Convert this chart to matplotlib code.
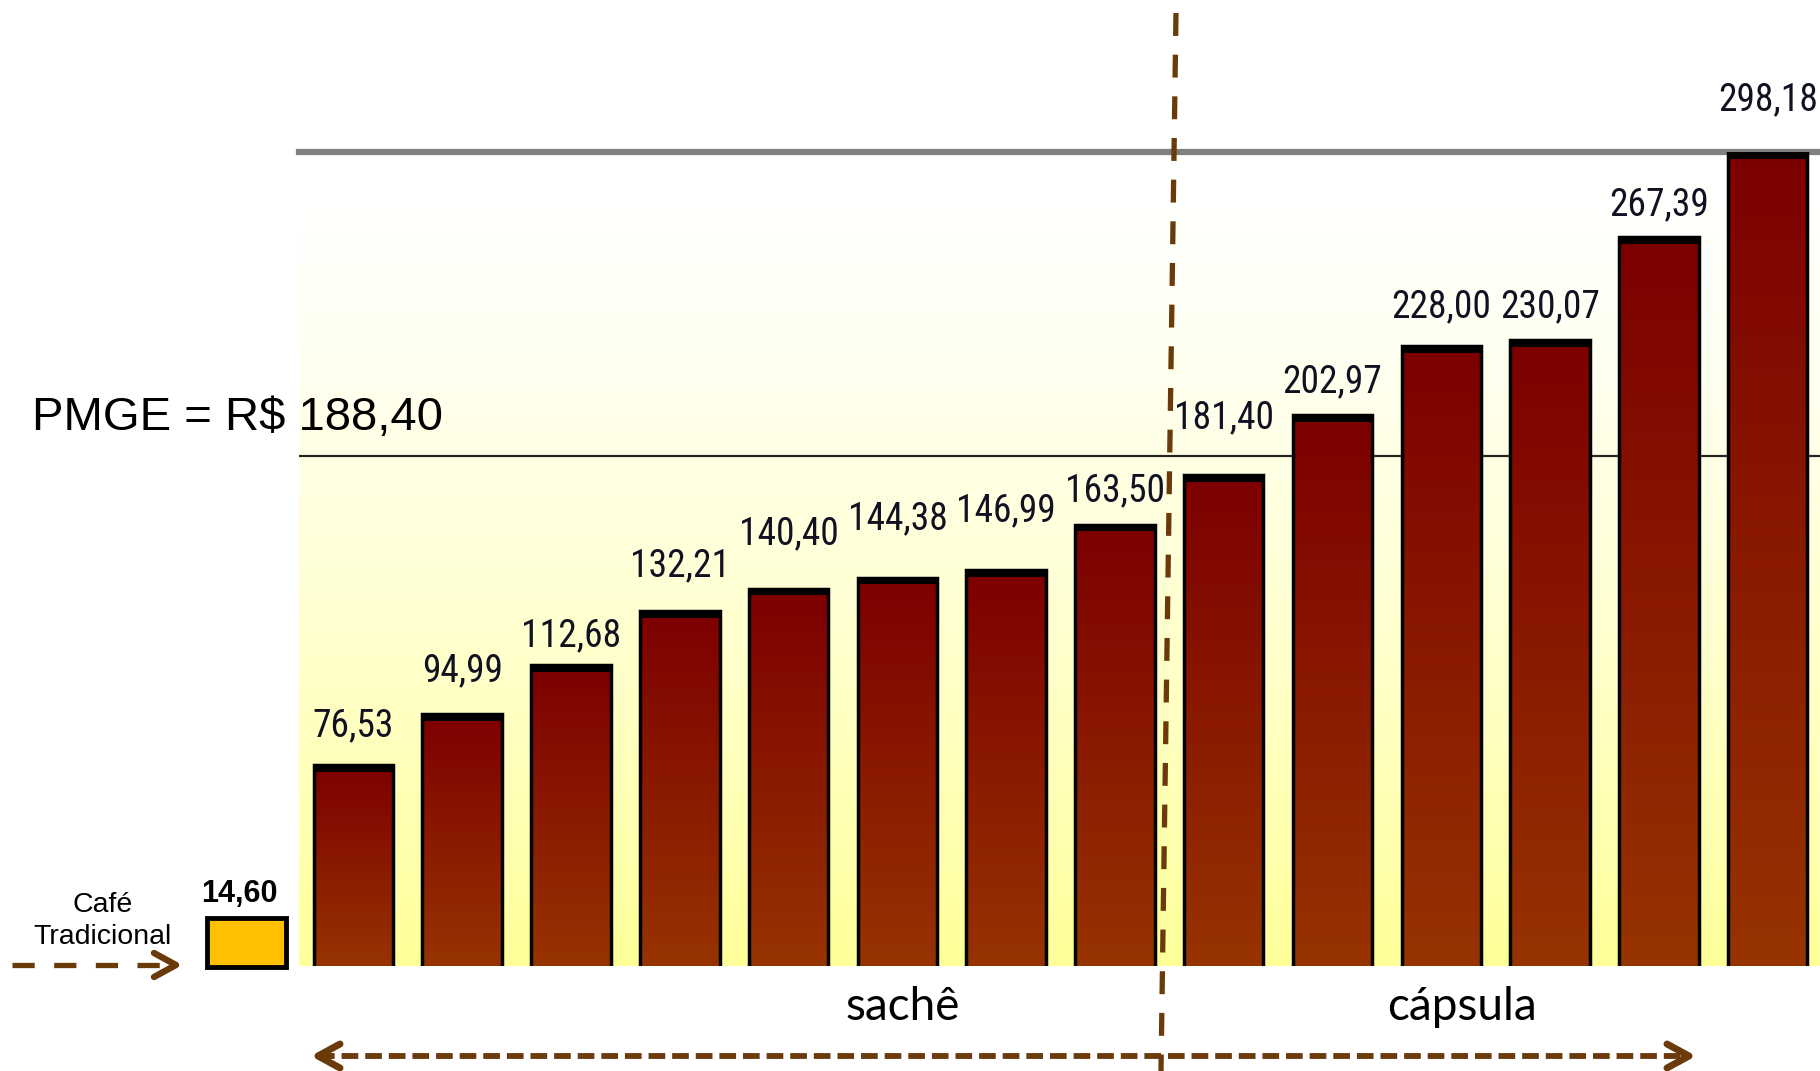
import numpy as np
import matplotlib
import matplotlib.pyplot as plt
from matplotlib import font_manager
from matplotlib.colors import LinearSegmentedColormap
from matplotlib.lines import Line2D

# Price per kg of coffee (R$) - sachê vs cápsula
values = [76.53, 94.99, 112.68, 132.21, 140.40, 144.38, 146.99, 163.50,
          181.40, 202.97, 228.00, 230.07, 267.39, 298.18]
pmge = 188.40
cafe_tradicional = 14.60
group_labels = ["sachê", "cápsula"]

# the value labels sit at uneven heights above the bars (points)
label_offsets = [21, 24, 14, 25, 32, 35, 35, 17, 34, 17, 21, 17, 16, 30]

W, H = 1820, 1071
brown = "#6b3a0a"

def px(x, y):
    # pixel position (from top-left) -> figure fraction
    return x / W, 1 - y / H

# pick a condensed font for the value labels, if one is installed
fonts = font_manager.fontManager.ttflist
names = {f.name for f in fonts}
label_font = dict(family="Liberation Sans", fontsize=21)
for n in ["Liberation Sans Narrow", "Roboto Condensed", "Open Sans Condensed", "DejaVu Sans Condensed"]:
    if n in names:
        label_font = dict(family=n, fontsize=27)
        break
else:
    if any(f.name == "DejaVu Sans" and "condensed" in str(f.stretch) for f in fonts):
        label_font = dict(family="DejaVu Sans", fontstretch="condensed", fontsize=23)

fig = plt.figure(figsize=(W / 100, H / 100), dpi=100)
ax = fig.add_axes([299 / W, 105 / H, 1521 / W, 814 / H])

x = np.arange(len(values))
vals = np.array(values)
bw = 0.73
ymin, ymax = 4, max(values)
xlo, xhi = -0.5, len(values) - 0.52

# background gradient, white at top to pale yellow at bottom
bg_cmap = LinearSegmentedColormap.from_list("bg", ["#ffffff", "#ffff99"])
grad = np.linspace(0, 1, 256) ** 1.4
ax.imshow(grad[:, None], extent=(xlo, xhi, ymin, ymax), origin="upper",
          cmap=bg_cmap, aspect="auto", zorder=0)

# bars with a dark red -> brown gradient
bar_cmap = LinearSegmentedColormap.from_list("bar", ["#7d0000", "#973300"])
for xi, v in zip(x, vals):
    ax.imshow(np.linspace(0, 1, 128)[:, None], extent=(xi - bw / 2, xi + bw / 2, ymin, v),
              origin="upper", cmap=bar_cmap, aspect="auto", zorder=2)
ax.bar(x, vals, width=bw, fill=False, edgecolor="black", linewidth=2.5, zorder=3)
ax.hlines(vals - 1, x - bw / 2, x + bw / 2, colors="black", linewidth=5, zorder=4)

for xi, v, off in zip(x, vals, label_offsets):
    ax.annotate(f"{v:.2f}".replace(".", ","), (xi, v), xytext=(0, off),
                textcoords="offset points", ha="center", va="baseline",
                color="#111122", annotation_clip=False, **label_font)

# PMGE reference line and top border
ax.axhline(pmge, color="#262626", linewidth=1.6, zorder=1)
ax.axhline(ymax, color="#808080", linewidth=4.5, zorder=1, clip_on=False)

ax.set_xlim(xlo, xhi)
ax.set_ylim(ymin, ymax)
ax.axis("off")

fig.text(*px(32, 418), "PMGE = R$ " + f"{pmge:.2f}".replace(".", ","),
         fontsize=34, family="Liberation Sans", ha="left", va="center")

# Café tradicional box
ax2 = fig.add_axes([207 / W, (H - 967) / H, 79 / W, 49 / H])
ax2.bar([0], [cafe_tradicional], width=1, color="#ffc000", edgecolor="black",
        linewidth=3.5, clip_on=False)
ax2.set_xlim(-0.5, 0.5)
ax2.set_ylim(0, cafe_tradicional)
ax2.axis("off")
fig.text(*px(239, 902), f"{cafe_tradicional:.2f}".replace(".", ","), fontsize=22,
         fontweight="bold", family="Liberation Sans", ha="center", va="baseline")
fig.text(*px(103, 921), "Café\nTradicional", fontsize=20.5, family="Liberation Sans",
         ha="center", va="center", linespacing=1.25)

# dashed arrows
def dashed_arrow(x0, x1, y, dashes, lw, heads=("right",), hl=24, hw=12):
    fig.add_artist(Line2D([x0 / W, x1 / W], [1 - y / H] * 2, color=brown, lw=lw,
                          dashes=dashes, transform=fig.transFigure))
    for side in heads:
        tip, sgn = (x1, -1) if side == "right" else (x0, 1)
        fig.add_artist(Line2D([(tip + sgn * hl) / W, tip / W, (tip + sgn * hl) / W],
                              [1 - (y - hw) / H, 1 - y / H, 1 - (y + hw) / H],
                              color=brown, lw=lw + 0.8, solid_capstyle="round",
                              solid_joinstyle="round", transform=fig.transFigure))

matplotlib.rcParams["lines.scale_dashes"] = False
dashed_arrow(12, 176, 965, (16, 14), 3.8, hl=22, hw=12)
dashed_arrow(318, 1689, 1056, (12, 5), 4.2, heads=("left", "right"), hl=22, hw=12)

# vertical separator between sachê and cápsula
fig.add_artist(Line2D([1176 / W, 1161 / W], [1 - 13 / H, 0], color=brown, lw=3.8,
                      dashes=(16.5, 13.5), transform=fig.transFigure))

fig.text(*px(903, 1007), group_labels[0], fontsize=33, family="Lato", ha="center", va="center")
fig.text(*px(1462, 1007), group_labels[1], fontsize=33, family="Lato", ha="center", va="center")

fig.savefig("out.png", dpi=100)
